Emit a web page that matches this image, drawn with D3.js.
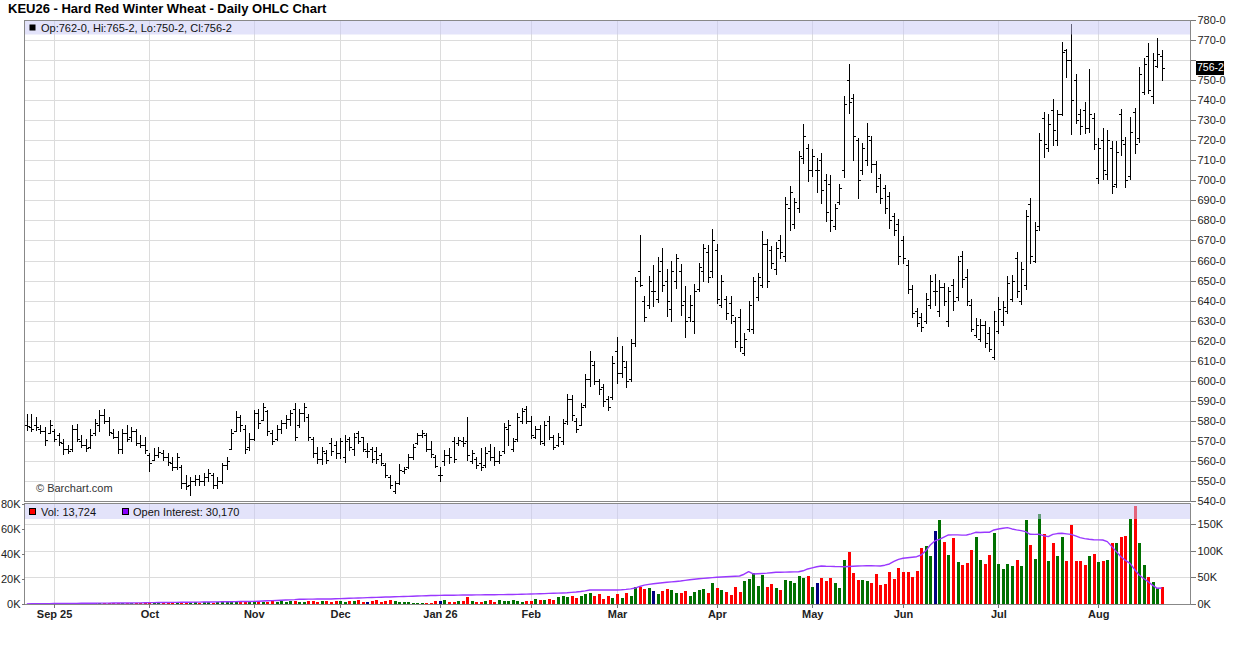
<!DOCTYPE html>
<html><head><meta charset="utf-8">
<script src="https://cdn.jsdelivr.net/npm/d3@7"></script>
<style>
body{margin:0;background:#fff}
svg{display:block}
text{font-family:"Liberation Sans",Arial,Helvetica,sans-serif}
</style>
</head><body>
<svg id="c" width="1236" height="645"></svg>
<script>
// ---------- DATA ----------
const titleText = "KEU26 - Hard Red Winter Wheat - Daily OHLC Chart";
const firstDate = "2025-08-22";
const holidays = ["2025-09-01","2025-11-27","2025-12-25","2026-01-01","2026-01-19","2026-02-16","2026-04-03","2026-05-25","2026-06-19","2026-07-03"];
const monthTickLabels = ["Sep 25","Oct","Nov","Dec","Jan 26","Feb","Mar","Apr","May","Jun","Jul","Aug"];
const priceTicks = [540,550,560,570,580,590,600,610,620,630,640,650,660,670,680,690,700,710,720,730,740,750,760,770,780];
const volumeTicksK = [0,20,40,60,80];
const oiTicksK = [0,50,100,150];

const openP = [578,577,578,576,575,574,575,573,569,566,
566,576,570,568,567,574,578,583,580,574,
572,566,574,572,575,569,568,563,560.5,563,
564,562,559,557,557,549,548,550,551,550,
552,553,548,550,558,566,575,582,576,567,
571,584,580.5,585,574,571,576,579,581,586,
578,584,582,571,564,561,564,569,568,564,
562,571,566,574,572,565,566,565,563,558,
552,545,549,555,557,562,569,573,573,566,
562,553,560,563,570,569,570,570,560,561,
559,558,565,562,560,565,576,566,571,580,
586,580,572,576,569,580,572,568,570,580,
591,580,578,588,601,608,600,597,591,592,
615,604,607,601,619,655,640,638,645,641,
660,650,636,650,655,640,632,630,646,655,
664,655,665,638,641,639,630,632,614,626,
626,642,648,668,665,656,670,662,686,678,
686,711,716,705,705,710,700,698,677,689,
705,750,741,720,705,710,720,708,701,696,
692,682,678,670,658,646,635,632,630,638,
645,635,647,630,648,642,662,652,638,623,
621,628,624,612,625,630,635,641,661,640,
648,688,660,677,731,716,735,720,733,765,
760,750,733,735,726,731,701,720,703,716,
698,733,718,702,734,721,744,762,742,757,
762];
const highP = [583.3,583.3,582,578,577,580.5,576,574,571,568,
578,578.4,573,571,576,581,585.5,586,582,576,
574.7,576,578,577,576,573,572,564,566.4,567,
565.5,564,562,564,558,553,552,553,553,554,
556,554,552,559,562,576,584.7,583,578,574,
585.5,586,589,585.5,575.5,578,580.5,583,585.5,589,
586,589,583.3,572,567,567,565.5,571.4,569.7,571.4,
573,572,574,575,572,569,567,567,564,559,
553,550,558.4,557,563.4,568.4,574,575.5,574,569.7,
563,557.2,565.5,566.4,572,572,572,582,565.5,562,
566.4,567,568.4,567,565,579,580.5,571.4,584,586.5,
587.6,582.3,577.3,578,580,582.3,572.8,574,581,593.5,
592.8,581.5,589,603.4,615,610,601,598.4,592.3,612.3,
621.8,617.3,609.8,621,651.7,672.5,642.2,652.2,657.7,661.7,
666,656,660,663.3,658.4,647.2,642.7,648.4,659,668.3,
667.7,675.5,668,653,642.4,642.4,632,636,623.6,640,
651.8,654,674.6,670.6,667.3,669,672.6,691.8,697.3,691,
714.6,727.9,717.9,715.6,711.2,713.4,703.4,702.9,688,698.4,
742.2,758,743,721.2,718.4,728.4,722.2,709.6,703.4,697.6,
694.3,683.5,680.6,672.3,660.3,647.9,636.3,634,644,652.9,
653.4,650.4,649,647,650.7,662,664.9,655.7,640.7,631.3,
630.8,630,627,635,642,639.6,652.4,652.9,664,659.5,
685,691,679.2,723.4,734,733,740.7,735,769,765.7,
777.8,752.9,735.4,739,755.4,733.4,721.2,726.2,725,719.6,
719.6,735.4,721.7,731.7,736.2,756.7,761.2,768.3,763.7,771.2,
765.25];
const lowP = [575.5,575,575.5,574,568,574,569.7,568,563.4,564,
564.7,569.7,567,564.7,566.4,573,574.7,579,573,571.4,
564,564,569.7,569.7,568,566.7,564,555,560.5,562,
560.5,558,555.5,556,546.4,546,543,548,548,548,
550,546.4,546.7,549,556,566,574.7,574.7,564,565.5,
570.5,576.4,580.5,573,568.4,570.5,574,576.4,578,570.5,
577,579.7,570.5,562,559,558.4,559,563,561.4,561.4,
559.7,565.5,563,568.9,564.7,562,559.7,559,558,552,
546.4,544.2,548.4,554,556.4,561,568.4,571.7,564.7,562,
557.2,550,558,559,559.7,568,567.2,560.5,559,556.4,
555.5,557.2,560.5,558,559,564,568,564.7,570,579,
578.7,571.5,571.5,568.5,568,570.7,566,567.3,568.2,578.5,
580.6,574.5,577.8,586.8,597.3,598.4,593.5,587.3,585.6,591,
599,601.8,596.8,600,617.3,647.2,630,636.4,637.2,639.4,
644.7,632.2,630,646.4,632.7,621.7,629.7,623.9,644.7,650,
649.4,652,638.7,636.9,631,629,617,614.7,613,624.7,
623.6,640.5,646.9,646.9,656.3,653.5,661.3,659.8,675.2,676.3,
684,708.4,699.8,702.3,694.3,688.5,679.8,674.8,675.6,688,
701.8,733.4,710,691,703.4,707.6,704.3,694,688.5,683.5,
676.3,672.6,658.5,658.7,643.6,631.8,627.4,625,628.8,636.3,
638,632.4,638,627.4,635.4,640.4,647,638,624.6,622,
619.6,616.8,614.6,610.8,623.8,628,633.8,639.6,642,638.4,
645.7,659,659.2,675.2,711.8,714.6,717.4,717.4,732.4,751.7,
723,728.4,723,723.7,724,715.4,698.8,700.8,700.8,693.8,
696.8,712.4,696.8,700.8,713.8,719,742.9,743.7,738.4,756.7,
750.25];
const closeP = [577.5,576,577,575,570.5,578,571,569.5,566,565,
576,571,568,566.5,573,579,583,580,574.5,572,
566,574,571,575,569,568,565.5,559,563,564.5,
562,559.5,557,562,549,547.5,550,551,550,552,
554,548,550,558,560,574,582,578,566,571,
584,579,587,575,570,576,579,581,584,572,
584,587,572,564,561,565,560.5,565,564,570,
570,567,572,570,566,565,561,561,559,553,
548,549,555.5,556,562,567,573,574,566,563.5,
557.5,553,563,562,561,570.5,569,563,564,558,
557,564,562,560,563,577,578,570,582,585,
580,573,576,570,578,572,567,572,579,591,
583,576,587,601,610,600,596,590,587,609,
604,610,600,619,650,648,632,650,645,655,
648,640,655,661,638,630,638,645,657,666,
652,670,641,650,634,633,620,617,621,638,
650,652,668,650,659,666,664,688,694,689,
712,722,705,712,705,695,684,680,686,696,
738,739,722,700,716,722,708,697,691,686,
680,675,662,661,646,634,629,627,641,650,
645,647,640,645,640,660,651,640,626,628,
628,619,616,630,636,637,649,650,645,656,
682,662,675,720,718,728,725,733,764,760,
740,730,727,726,733,718,716,705,720,697,
714,720,700,724,718,753,758,745,760,763,
756.25];
// volume, thousands of contracts
const volumeK = [0.2,0.3,0.2,0.3,
0.5,0.6,0.5,0.7,0.6,0.8,0.5,0.7,0.6,0.9,0.7,0.6,0.8,0.7,0.9,0.6,0.8,0.7,1.0,0.8,0.7,0.9,0.8,
1.0,1.2,0.9,1.1,1.3,1.0,1.2,1.5,1.4,1.1,1.3,1.2,1.6,1.4,1.2,1.5,1.3,1.7,2.0,1.8,1.5,1.4,1.6,
1.8,2.2,2.0,1.7,2.4,1.9,2.1,1.6,2.3,2.6,2.0,1.8,2.2,2.5,1.9,2.8,2.1,
2.0,2.4,2.2,1.8,2.5,2.3,2.9,1.6,2.0,2.6,3.1,1.8,2.2,3.6,2.4,2.0,
1.9,1.3,1.1,1.1,1.1,1.1,1.1,2.4,2.4,3.2,
1.3,1.9,2.4,2.4,5.9,2.4,1.9,1.3,2.4,3.2,
1.3,3.2,2.4,2.4,3.2,2.4,1.3,2.4,2.4,4.0,
3.2,3.2,4.0,3.2,5.3,6.7,5.9,6.7,5.1,6.7,
8.0,8.5,6.7,8.0,4.0,6.7,5.1,8.0,5.1,9.1,
6.7,13.9,13.9,11.7,12.5,10.4,8.0,10.4,12.0,11.2,
9.1,9.1,10.4,6.7,9.3,11.2,12.0,9.1,17.1,13.1,
11.2,9.6,7.2,13.9,9.6,18.4,20.3,24.5,14.7,23.2,
13.6,16.0,12.5,11.2,19.2,18.1,17.1,22.4,21.1,22.4,
13.9,16.8,20.8,18.4,21.1,17.1,13.1,35.2,41.6,24.5,
19.2,19.2,18.4,16.8,24.0,15.2,15.7,25.3,20.0,28.5,
25.3,25.3,21.6,26.4,45.1,46.4,38.4,58.4,67.2,49.6,
39.2,52.5,33.9,31.2,32.8,43.2,53.6,35.2,32.0,39.2,
56.8,32.0,28.0,32.0,30.4,35.2,30.4,67.2,47.2,36.0,
72.0,55.7,34.4,48.8,38.4,53.6,34.4,63.2,34.4,34.4,
31.2,38.4,40.0,33.6,34.4,35.2,48.8,48.8,53.6,54.4,
68.0,78.4,48.8,31.2,21.6,17.6,12.8,13.724];
// open interest, thousands of contracts
const openInterestK = [0.3,0.4,0.5,0.6,0.7,0.8,
0.9,1.0,1.0,1.1,1.2,1.2,1.3,1.4,1.4,1.5,1.6,1.6,1.7,1.8,1.8,1.9,2.0,2.0,2.1,2.2,2.3,
2.5,2.6,2.7,2.8,2.9,3.0,3.1,3.2,3.3,3.4,3.5,3.6,3.7,3.8,3.9,4.0,4.1,4.2,4.3,4.5,4.6,4.7,4.8,
5.0,5.3,5.6,6.0,6.3,6.7,7.0,7.4,7.8,8.2,8.8,9.0,9.1,9.2,9.3,9.3,9.4,
9.5,9.8,10.1,10.4,10.7,11.0,11.3,11.6,11.9,12.2,12.5,12.8,13.1,13.3,13.6,13.8,
14.1,14.4,14.7,15.0,15.3,15.6,15.9,16.1,16.3,
16.4,16.5,16.6,16.7,16.8,16.9,17.0,17.1,17.2,17.3,17.4,17.5,17.6,17.7,17.8,17.9,18.1,18.3,18.5,18.8,
19.0,19.3,19.6,19.9,20.2,20.5,20.8,21.2,21.8,22.5,23.5,24.8,26.3,
26.3,26.4,26.3,26.4,26.5,26.4,26.8,27.5,28.5,30.0,33.0,35.5,
37.0,38.0,39.0,40.0,40.8,41.6,42.4,43.3,44.5,45.5,46.5,47.5,48.3,49.0,49.6,
50.2,50.8,51.3,51.8,52.2,52.7,56.0,60.8,
56.5,57.0,57.5,58.0,58.8,59.6,59.8,60.0,60.2,60.4,60.6,62.5,65.9,
68.0,70.0,71.5,71.0,70.8,70.5,70.4,70.2,70.6,71.0,71.5,71.8,72.1,72.0,71.8,71.5,
73.0,75.3,80.0,84.0,86.0,87.0,88.0,89.0,92.2,100.0,111.0,
118.6,121.7,126.0,129.9,130.0,130.0,129.5,129.9,132.0,134.9,134.5,134.9,134.9,
139.3,141.0,142.5,143.7,141.2,139.5,138.0,136.1,
131.1,131.0,131.1,128.5,126.7,131.0,132.5,133.0,132.0,131.0,128.0,124.8,123.0,121.7,121.0,120.6,120.4,117.3,
107.9,98.5,89.0,82.0,76.5,65.0,54.6,48.0,42.0,35.0,29.5,30.17];

// ---------- CATEGORIES: trading days ----------
const N = Math.min(openP.length, highP.length, lowP.length, closeP.length, volumeK.length, openInterestK.length);
const dates = [];
{
  const d = new Date(firstDate + "T00:00:00Z");
  while (dates.length < N) {
    const iso = d.toISOString().slice(0, 10);
    const wd = d.getUTCDay();
    if (wd !== 0 && wd !== 6 && !holidays.includes(iso)) dates.push(iso);
    d.setUTCDate(d.getUTCDate() + 1);
  }
}
const monthStarts = dates.filter((d, i) => i > 0 && d.slice(5, 7) !== dates[i - 1].slice(5, 7));

// ---------- LAYOUT ----------
const W = 1236, H = 645;
const L = 24.5, R = 1190.5;
const mainTop = 20, mainBot = 501.5, volTop = 503.5, volBot = 604;
const FONT = '"Liberation Sans",Arial,Helvetica,sans-serif';

const x = d3.scalePoint().domain(dates).range([26.8, 26.8 + (N - 1) * 4.54]);
const yP = d3.scaleLinear().domain([540, 780]).range([501, 20]);
const yV = d3.scaleLinear().domain([0, 80]).range([604, 504]);
const yOI = d3.scaleLinear().domain([0, 190]).range([604, 503]);

const fmtPrice = p => { const w = Math.floor(p + 1e-9); return w + "-" + Math.round((p - w) * 8); };
const fmtInt = d3.format(",");
const px = d => Math.round(x(d));

const svg = d3.select("#c");
svg.append("rect").attr("width", W).attr("height", H).attr("fill", "#fff");

// ---------- GRID ----------
const grid = svg.append("g").attr("stroke", "#dcdcdc").attr("stroke-width", 1).attr("shape-rendering", "crispEdges");
grid.selectAll("line.hp").data(priceTicks.filter(v => v > 540 && v < 780)).join("line")
  .attr("x1", L).attr("x2", R).attr("y1", v => Math.round(yP(v)) + 0.5).attr("y2", v => Math.round(yP(v)) + 0.5);
grid.selectAll("line.vm").data(monthStarts).join("line")
  .attr("x1", d => px(d) + 0.5).attr("x2", d => px(d) + 0.5).attr("y1", mainTop).attr("y2", mainBot);
grid.selectAll("line.hv").data(oiTicksK.filter(v => v > 0)).join("line")
  .attr("x1", L).attr("x2", R).attr("y1", v => Math.round(yOI(v)) + 0.5).attr("y2", v => Math.round(yOI(v)) + 0.5);
grid.selectAll("line.vv").data(monthStarts).join("line")
  .attr("x1", d => px(d) + 0.5).attr("x2", d => px(d) + 0.5).attr("y1", volTop).attr("y2", volBot);

// ---------- OHLC BARS ----------
const idx = d3.range(N);
const ohlc = svg.append("g").attr("fill", "#000").attr("shape-rendering", "crispEdges");
ohlc.selectAll("rect.hl").data(idx).join("rect")
  .attr("x", i => px(dates[i])).attr("width", 1)
  .attr("y", i => Math.round(yP(highP[i])))
  .attr("height", i => Math.max(1, Math.round(yP(lowP[i])) - Math.round(yP(highP[i])) + 1));
ohlc.selectAll("rect.op").data(idx).join("rect")
  .attr("x", i => px(dates[i]) - 2).attr("width", 2)
  .attr("y", i => Math.round(yP(openP[i]))).attr("height", 1);
ohlc.selectAll("rect.cl").data(idx).join("rect")
  .attr("x", i => px(dates[i]) + 1).attr("width", 2)
  .attr("y", i => Math.round(yP(closeP[i]))).attr("height", 1);

// ---------- VOLUME ----------
const volColor = i => closeP[i] > openP[i] ? "#007000" : (closeP[i] < openP[i] ? "#ff0000" : "#000080");
svg.append("g").attr("shape-rendering", "crispEdges").selectAll("rect").data(idx).join("rect")
  .attr("x", i => px(dates[i]) - 1).attr("width", 3)
  .attr("y", i => yV(volumeK[i]))
  .attr("height", i => Math.max(0, volBot - yV(volumeK[i])))
  .attr("fill", i => volColor(i));

// ---------- OPEN INTEREST ----------
svg.append("path").datum(idx)
  .attr("fill", "none").attr("stroke", "#9a38ff").attr("stroke-width", 1.4).attr("stroke-linejoin", "round")
  .attr("d", d3.line().x(i => x(dates[i])).y(i => yOI(openInterestK[i])));

// ---------- LEGEND BANDS ----------
svg.append("rect").attr("x", L + 0.5).attr("y", mainTop + 0.5).attr("width", R - L - 1).attr("height", 14)
  .attr("fill", "rgb(200,200,245)").attr("fill-opacity", 0.5);
svg.append("rect").attr("x", L + 0.5).attr("y", volTop + 0.5).attr("width", R - L - 1).attr("height", 15)
  .attr("fill", "rgb(200,200,245)").attr("fill-opacity", 0.5);

const last = N - 1;
svg.append("rect").attr("x", 29.5).attr("y", 24.5).attr("width", 6).attr("height", 6).attr("fill", "#000");
svg.append("text").attr("x", 41).attr("y", 31.5).attr("font-size", 11).attr("fill", "#111")
  .text(`Op:${fmtPrice(openP[last])}, Hi:${fmtPrice(highP[last])}, Lo:${fmtPrice(lowP[last])}, Cl:${fmtPrice(closeP[last])}`);

svg.append("rect").attr("x", 29.5).attr("y", 508.5).attr("width", 6).attr("height", 6).attr("fill", "#ff0000").attr("stroke", "#000");
svg.append("text").attr("x", 41).attr("y", 515.7).attr("font-size", 11).attr("fill", "#111")
  .text(`Vol: ${fmtInt(Math.round(volumeK[last] * 1000))}`);
svg.append("rect").attr("x", 122.5).attr("y", 508.5).attr("width", 6).attr("height", 6).attr("fill", "#8a00ff").attr("stroke", "#000");
svg.append("text").attr("x", 133).attr("y", 515.7).attr("font-size", 11).attr("fill", "#111")
  .text(`Open Interest: ${fmtInt(Math.round(openInterestK[last] * 1000))}`);

// ---------- FRAMES ----------
const frame = svg.append("g").attr("fill", "none").attr("stroke", "#888").attr("shape-rendering", "crispEdges");
frame.append("rect").attr("x", L).attr("y", mainTop + 0.5).attr("width", R - L).attr("height", mainBot - mainTop - 0.5);
frame.append("rect").attr("x", L).attr("y", volTop).attr("width", R - L).attr("height", volBot + 0.5 - volTop);

// ---------- AXES ----------
function styleAxis(g, size, weight) {
  g.select(".domain").remove();
  g.selectAll(".tick line").attr("stroke", "#777").attr("shape-rendering", "crispEdges");
  g.selectAll(".tick text").attr("font-family", FONT).attr("font-size", size).attr("fill", "#222").attr("font-weight", weight || "normal");
}
const lastClose = closeP[N - 1];
svg.append("g").attr("transform", `translate(${R},0)`)
  .call(d3.axisRight(yP).tickValues(priceTicks).tickSize(5).tickPadding(2).tickFormat(fmtPrice))
  .call(g => styleAxis(g, 11))
  .call(g => g.selectAll(".tick text").filter(v => Math.abs(yP(v) - yP(lastClose)) < 10).remove());
svg.append("g").attr("transform", `translate(${R},0)`)
  .call(d3.axisRight(yOI).tickValues(oiTicksK).tickSize(5).tickPadding(2).tickFormat(v => v + "K"))
  .call(g => styleAxis(g, 11));
svg.append("g").attr("transform", `translate(${L},0)`)
  .call(d3.axisLeft(yV).tickValues(volumeTicksK).tickSize(3).tickPadding(1).tickFormat(v => v + "K"))
  .call(g => styleAxis(g, 11));
svg.append("g").attr("transform", `translate(0,${volBot})`)
  .call(d3.axisBottom(x).tickValues(monthStarts).tickSize(4).tickPadding(2).tickFormat((d, i) => monthTickLabels[i]))
  .call(g => styleAxis(g, 11, "bold"));

// current price box
{
  const yc = yP(lastClose);
  const t = svg.append("text").attr("x", 1197).attr("y", yc).attr("dy", "0.35em").attr("font-size", 10.5)
    .attr("fill", "#fff").text(fmtPrice(lastClose));
  const bb = t.node().getBBox();
  svg.insert("rect", () => t.node()).attr("x", bb.x - 1).attr("y", Math.round(yc) - 7).attr("width", bb.width + 1).attr("height", 14).attr("fill", "#000");
}

// ---------- TEXTS ----------
svg.append("text").attr("x", 8).attr("y", 13).attr("font-size", 13).attr("font-weight", "bold").attr("fill", "#000").text(titleText);
svg.append("text").attr("x", 36).attr("y", 491.5).attr("font-size", 11).attr("fill", "#333").text("\u00A9 Barchart.com");
</script>
</body></html>
